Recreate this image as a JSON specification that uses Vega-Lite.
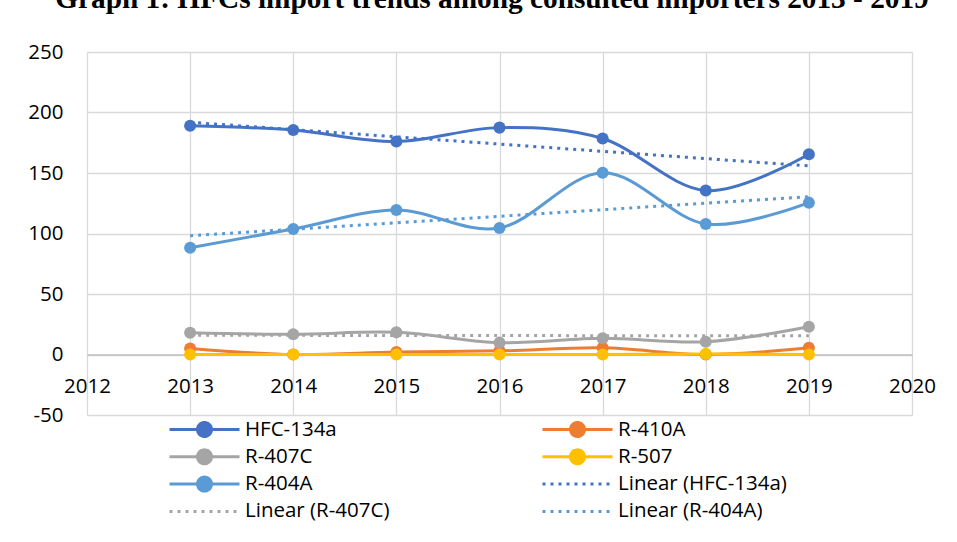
{
  "$schema": "https://vega.github.io/schema/vega-lite/v6.json",
  "autosize": {"type": "none"},
  "width": 825,
  "height": 363,
  "padding": {"left": 87, "top": 52, "right": 45, "bottom": 127},
  "background": "white",
  "title": {
    "text": "Graph 1: HFCs import trends among consulted importers 2013 - 2019",
    "font": "Liberation Serif",
    "fontSize": 29.3,
    "fontWeight": "bold",
    "color": "#000000",
    "anchor": "middle",
    "baseline": "alphabetic",
    "offset": 5,
    "dx": -7.5
  },
  "datasets": {
    "imports": [
      {"year": 2013, "series": "HFC-134a", "value": 189},
      {"year": 2014, "series": "HFC-134a", "value": 185.5},
      {"year": 2015, "series": "HFC-134a", "value": 176},
      {"year": 2016, "series": "HFC-134a", "value": 187.5},
      {"year": 2017, "series": "HFC-134a", "value": 178.5},
      {"year": 2018, "series": "HFC-134a", "value": 135.5},
      {"year": 2019, "series": "HFC-134a", "value": 165.5},
      {"year": 2013, "series": "R-410A", "value": 5},
      {"year": 2014, "series": "R-410A", "value": 0},
      {"year": 2015, "series": "R-410A", "value": 2},
      {"year": 2016, "series": "R-410A", "value": 3},
      {"year": 2017, "series": "R-410A", "value": 5.5},
      {"year": 2018, "series": "R-410A", "value": 0},
      {"year": 2019, "series": "R-410A", "value": 5.5},
      {"year": 2013, "series": "R-407C", "value": 18},
      {"year": 2014, "series": "R-407C", "value": 16.7},
      {"year": 2015, "series": "R-407C", "value": 18.3},
      {"year": 2016, "series": "R-407C", "value": 9.8},
      {"year": 2017, "series": "R-407C", "value": 13.4},
      {"year": 2018, "series": "R-407C", "value": 10.6},
      {"year": 2019, "series": "R-407C", "value": 23},
      {"year": 2013, "series": "R-507", "value": 0},
      {"year": 2014, "series": "R-507", "value": 0},
      {"year": 2015, "series": "R-507", "value": 0},
      {"year": 2016, "series": "R-507", "value": 0},
      {"year": 2017, "series": "R-507", "value": 0},
      {"year": 2018, "series": "R-507", "value": 0.5},
      {"year": 2019, "series": "R-507", "value": 0},
      {"year": 2013, "series": "R-404A", "value": 88.3},
      {"year": 2014, "series": "R-404A", "value": 103.7},
      {"year": 2015, "series": "R-404A", "value": 119.4},
      {"year": 2016, "series": "R-404A", "value": 104.5},
      {"year": 2017, "series": "R-404A", "value": 150.2},
      {"year": 2018, "series": "R-404A", "value": 107.9},
      {"year": 2019, "series": "R-404A", "value": 125.5}
    ],
    "trends": [
      {"year": 2013, "series": "Linear (HFC-134a)", "value": 191.9},
      {"year": 2019, "series": "Linear (HFC-134a)", "value": 155.9},
      {"year": 2013, "series": "Linear (R-407C)", "value": 15.9},
      {"year": 2019, "series": "Linear (R-407C)", "value": 15.4},
      {"year": 2013, "series": "Linear (R-404A)", "value": 98.1},
      {"year": 2019, "series": "Linear (R-404A)", "value": 130.4}
    ]
  },
  "encoding": {
    "x": {
      "field": "year",
      "type": "quantitative",
      "scale": {"domain": [2012, 2020], "nice": false, "zero": false},
      "axis": {
        "values": [2012, 2013, 2014, 2015, 2016, 2017, 2018, 2019, 2020],
        "format": "d",
        "title": null,
        "offset": -60.5,
        "domain": true,
        "domainColor": "#bfbfbf",
        "domainWidth": 1.3,
        "ticks": false,
        "tickSize": 0,
        "labelPadding": 22,
        "labelFlush": false,
        "labelOverlap": false,
        "grid": true
      }
    },
    "y": {
      "field": "value",
      "type": "quantitative",
      "scale": {"domain": [-50, 250], "nice": false, "zero": false},
      "axis": {
        "values": [-50, 0, 50, 100, 150, 200, 250],
        "labelExpr": "datum.value < 0 ? '-' + abs(datum.value) : '' + datum.value",
        "title": null,
        "domain": false,
        "ticks": false,
        "tickSize": 0,
        "labelPadding": 24,
        "grid": true
      }
    },
    "color": {
      "field": "series",
      "type": "nominal",
      "scale": {
        "domain": ["HFC-134a", "R-410A", "R-407C", "R-507", "R-404A", "Linear (HFC-134a)", "Linear (R-407C)", "Linear (R-404A)"],
        "range": ["#4472C4", "#ED7D31", "#A5A5A5", "#FFC000", "#5B9BD5", "#4472C4", "#A5A5A5", "#5B9BD5"]
      },
      "legend": {
        "orient": "none",
        "direction": "horizontal",
        "legendX": 81,
        "legendY": 364,
        "title": null,
        "columns": 2,
        "padding": 0,
        "rowPadding": 0.3,
        "columnPadding": 151,
        "clipHeight": 27,
        "symbolSize": 4900,
        "symbolStrokeWidth": 3,
        "labelFont": "Open Sans",
        "labelFontSize": 20.5,
        "labelColor": "#000000",
        "labelOffset": 4,
        "labelLimit": 400,
        "encode": {
          "symbols": {
            "update": {
              "shape": {"signal": "indexof(datum.value, 'Linear') === 0 ? 'stroke' : 'M-1,0H1M-0.2,0A0.2,0.2,0,1,1,0.2,0A0.2,0.2,0,1,1,-0.2,0Z'"},
              "fill": {"signal": "indexof(datum.value, 'Linear') === 0 ? 'transparent' : scale('color', datum.value)"},
              "stroke": {"signal": "scale('color', datum.value)"},
              "strokeDash": {"signal": "indexof(datum.value, 'Linear') === 0 ? [3, 5] : [1, 0]"},
              "strokeWidth": {"value": 3},
              "opacity": {"value": 1},
              "fillOpacity": {"value": 1},
              "strokeOpacity": {"value": 1}
            }
          }
        }
      }
    }
  },
  "layer": [
    {
      "data": {"name": "imports"},
      "mark": {"type": "line", "interpolate": "cardinal", "tension": 0, "strokeWidth": 3},
      "encoding": {"detail": {"field": "series"}}
    },
    {
      "data": {"name": "imports"},
      "mark": {"type": "circle", "size": 145, "opacity": 1}
    },
    {
      "data": {"name": "trends"},
      "mark": {"type": "line", "strokeWidth": 3, "strokeDash": [3, 5]}
    }
  ],
  "config": {
    "view": {"stroke": null},
    "axis": {
      "gridColor": "#d9d9d9",
      "gridWidth": 1.3,
      "labelFont": "Open Sans",
      "labelFontSize": 20.5,
      "labelColor": "#000000"
    }
  }
}
